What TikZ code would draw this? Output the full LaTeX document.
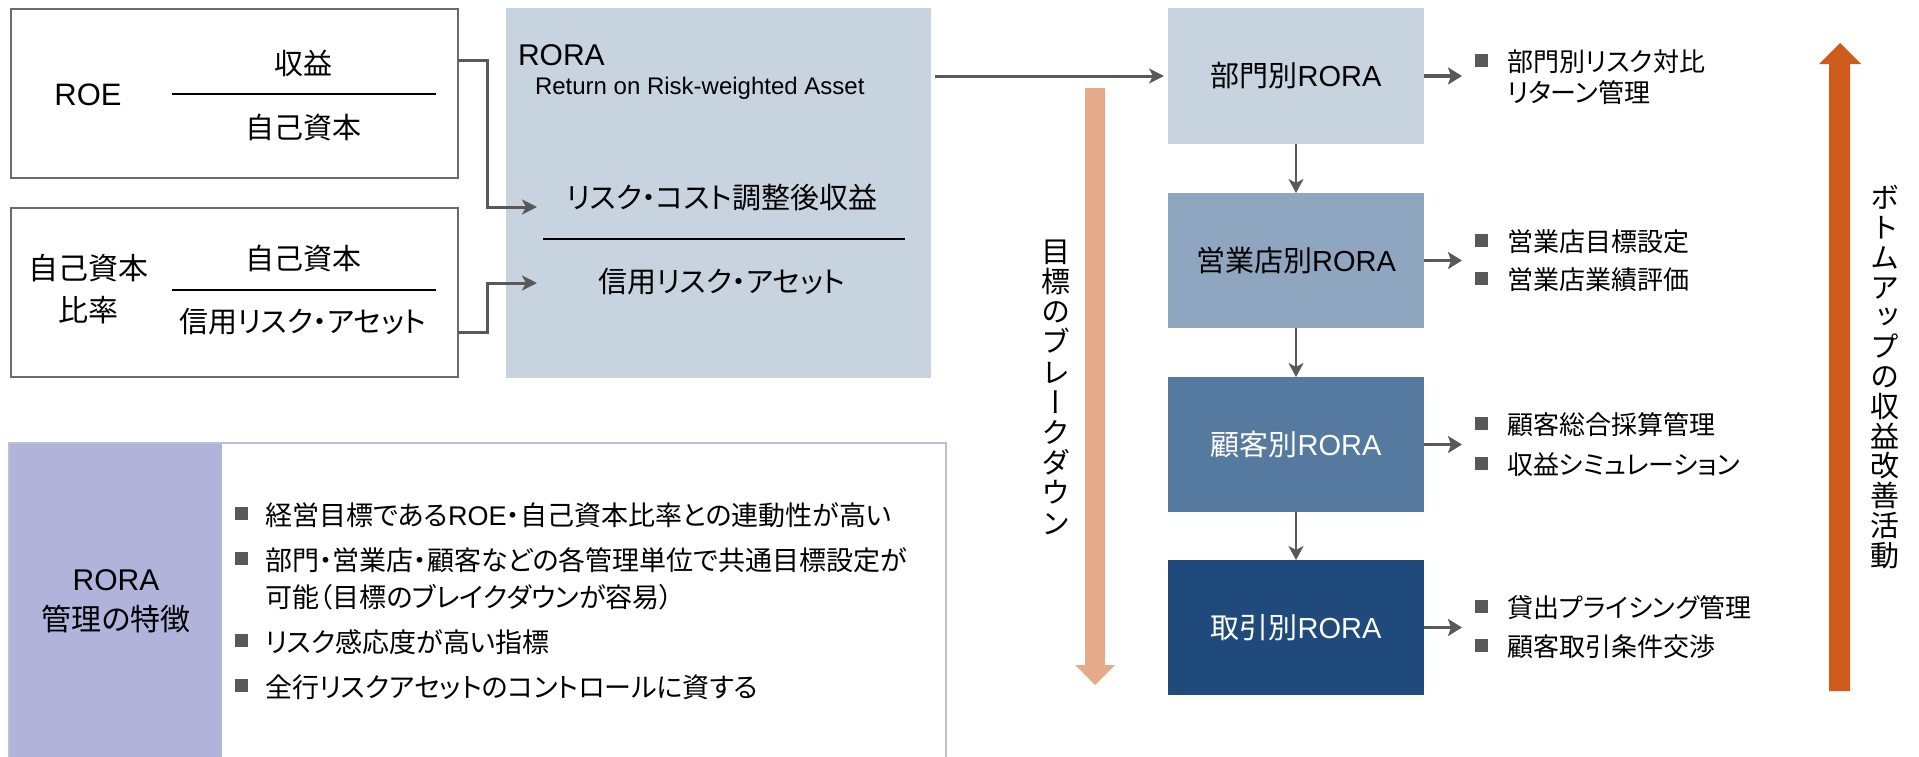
\documentclass[tikz,border=0pt]{standalone}
\usepackage{fontspec}
\setmainfont{Liberation Sans}
\newfontfamily\jp[RawFeature=+palt]{Noto Sans CJK JP}
\newfontfamily\jpv[RawFeature=+vert]{Noto Sans CJK JP}
\newcommand\jt[1]{{\jp #1}}
\usetikzlibrary{arrows.meta}
\definecolor{lgray}{HTML}{595959}
\definecolor{bgray}{HTML}{6B6B6B}
\definecolor{ltblue}{HTML}{C7D3DF}
\definecolor{mblue}{HTML}{8EA6C0}
\definecolor{dblue}{HTML}{56799F}
\definecolor{nblue}{HTML}{1F4A7B}
\definecolor{salmon}{HTML}{E5AA88}
\definecolor{rust}{HTML}{CC5B1C}
\definecolor{lav}{HTML}{B1B3DA}
\definecolor{lavline}{HTML}{BDBDE0}
\tikzset{
 fsbig/.style={font=\fontsize{29}{34}\selectfont},
 fsmid/.style={font=\fontsize{26}{31}\selectfont},
 fspanel/.style={font=\fontsize{27}{32}\selectfont},
 fssub/.style={font=\fontsize{24}{28}\selectfont},
 plain/.style={inner sep=0pt, outer sep=0pt},
 outlinebox/.style={draw=bgray, line width=2pt, inner sep=0pt, outer sep=0pt, anchor=north west, minimum width=447pt, minimum height=169pt},
 rorabox/.style={inner sep=0pt, outer sep=0pt, anchor=north west, minimum width=256pt, minimum height=135pt, fsbig},
 conn/.style={draw=lgray, line width=3pt, -{Stealth[length=15pt,width=15pt,inset=4pt]}},
 downarrow/.style={draw=lgray, line width=2.2pt, -{Stealth[length=14pt,width=15pt,inset=4pt]}},
 sidearrow/.style={draw=lgray, line width=3.8pt, -{Stealth[length=14pt,width=17pt,inset=3pt]}},
 sq/.style={fill=lgray, minimum size=13pt, inner sep=0pt, outer sep=0pt},
 fracline/.style={draw=black, line width=1.6pt},
 btxt/.style={plain, fsmid, anchor=west},
 ptxt/.style={plain, fspanel, anchor=west},
}
\begin{document}
\begin{tikzpicture}[x=1pt,y=-1pt]
\useasboundingbox (0,0) rectangle (1919,756);

% ---------- top-left formula boxes ----------
\node[outlinebox] (roe) at (11,9) {};
\node[outlinebox] (kb) at (11,208) {};
\node[plain, font=\fontsize{31}{36}\selectfont] (roelbl) at (88,95) {ROE};
\node[plain, fsbig] (num1) at (303,63) {\jt{収益}};
\draw[fracline] (172,94) -- (436,94);
\node[plain, fsbig] (den1) at (303,127) {\jt{自己資本}};
\node[plain, align=center, font=\jp\fontsize{30}{42}\selectfont] (kblbl) at (88,289) {自己資本\\比率};
\node[plain, fsbig] (num2) at (303,258) {\jt{自己資本}};
\draw[fracline] (172,290) -- (436,290);
\node[plain, fsbig] (den2) at (303,322) {\jt{信用リスク・アセット}};

% ---------- RORA definition box ----------
\node[fill=ltblue, inner sep=0pt, outer sep=0pt, anchor=north west, minimum width=425pt, minimum height=370pt] (rora) at (506,8) {};
\node[plain, font=\fontsize{30}{34}\selectfont, anchor=west] (roratitle) at (518,55) {RORA};
\node[plain, fssub, anchor=west] (rorasub) at (535,88) {Return on Risk-weighted Asset};
\node[plain, fsbig] (rnum) at (722,198) {\jt{リスク・コスト調整後収益}};
\draw[fracline] (543,239) -- (905,239);
\node[plain, fsbig] (rden) at (722,282) {\jt{信用リスク・アセット}};

\coordinate (in1) at (537,207);
\coordinate (in2) at (537,283);
\draw[conn] (roe.north east) ++(0,51) -- ++(29,0) |- (in1);
\draw[conn] (kb.south east) ++(0,-45) -- ++(29,0) |- (in2);

% ---------- RORA hierarchy ----------
\node[rorabox, fill=ltblue, minimum height=136pt] (bu) at (1168,8) {\jt{部門別}RORA};
\node[rorabox, fill=mblue] (eig) at (1168,193) {\jt{営業店別}RORA};
\node[rorabox, fill=dblue, text=white] (kok) at (1168,377) {\jt{顧客別}RORA};
\node[rorabox, fill=nblue, text=white] (tor) at (1168,560) {\jt{取引別}RORA};

\draw[conn] ([xshift=4pt]rora.east |- bu.west) -- ([xshift=-4pt]bu.west);
\draw[downarrow] (bu.south) -- (eig.north);
\draw[downarrow] (eig.south) -- (kok.north);
\draw[downarrow] (kok.south) -- (tor.north);

\draw[sidearrow] (bu.east) -- ++(38,0);
\draw[sidearrow] (eig.east) -- ++(38,0);
\draw[sidearrow] (kok.east) -- ++(38,0);
\draw[sidearrow] (tor.east) -- ++(38,0);

\node[sq] (q1) at (1481.5,60) {};
\node[btxt] (t1) at (1507,62) {\jt{部門別リスク対比}};
\node[btxt] (t1b) at (1507,93) {\jt{リターン管理}};
\node[sq] (q2) at (1481.5,240) {};
\node[btxt] (t2) at (1507,242) {\jt{営業店目標設定}};
\node[sq] (q3) at (1481.5,278) {};
\node[btxt] (t3) at (1507,280) {\jt{営業店業績評価}};
\node[sq] (q4) at (1481.5,423) {};
\node[btxt] (t4) at (1507,425) {\jt{顧客総合採算管理}};
\node[sq] (q5) at (1481.5,463) {};
\node[btxt] (t5) at (1507,465) {\jt{収益シミュレーション}};
\node[sq] (q6) at (1481.5,606) {};
\node[btxt] (t6) at (1507,608) {\jt{貸出プライシング管理}};
\node[sq] (q7) at (1481.5,645) {};
\node[btxt] (t7) at (1507,647) {\jt{顧客取引条件交渉}};

% ---------- big arrows ----------
\fill[salmon] (1085,88) -- (1105,88) -- (1105,665) -- (1115,665) -- (1095,685) -- (1075,665) -- (1085,665) -- cycle;
\node[plain, align=center, font=\jpv\fontsize{29}{30.2}\selectfont] (vt1) at (1056,387) {目\\標\\の\\ブ\\レ\\ー\\ク\\ダ\\ウ\\ン};
\fill[rust] (1829,691) -- (1850,691) -- (1850,64) -- (1861,64) -- (1840,43) -- (1819,64) -- (1829,64) -- cycle;
\node[plain, align=center, font=\jpv\fontsize{29}{29.8}\selectfont] (vt2) at (1885,377) {ボ\\ト\\ム\\ア\\ッ\\プ\\の\\収\\益\\改\\善\\活\\動};

% ---------- bottom panel ----------
\fill[lav] (9,443) rectangle (222,758);
\draw[lavline, line width=2pt] (9,758) -- (9,443) -- (946,443) -- (946,758);
\node[plain, align=center, font=\fontsize{30}{40}\selectfont] (ptitle) at (116,601) {RORA\\\jt{管理の特徴}};
\node[sq] (p1) at (241.5,513) {};
\node[ptxt] (pt1) at (265,515) {\jt{経営目標である}ROE\jt{・自己資本比率との連動性が高い}};
\node[sq] (p2) at (241.5,558) {};
\node[ptxt] (pt2) at (265,560) {\jt{部門・営業店・顧客などの各管理単位で共通目標設定が}};
\node[ptxt] (pt2b) at (265,597) {\jt{可能（目標のブレイクダウンが容易）}};
\node[sq] (p3) at (241.5,640) {};
\node[ptxt] (pt3) at (265,642) {\jt{リスク感応度が高い指標}};
\node[sq] (p4) at (241.5,685) {};
\node[ptxt] (pt4) at (265,687) {\jt{全行リスクアセットのコントロールに資する}};
\end{tikzpicture}
\end{document}
